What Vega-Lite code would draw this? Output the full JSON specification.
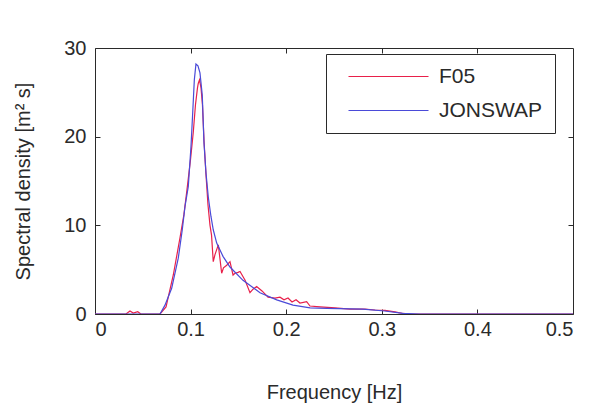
{
  "$schema": "https://vega.github.io/schema/vega-lite/v6.json",
  "autosize": "none",
  "padding": {"left": 95, "top": 48, "right": 29, "bottom": 95},
  "width": 478,
  "height": 266,
  "background": "white",
  "config": {
    "font": "Liberation Sans",
    "view": {"stroke": "#2a2a2a", "strokeWidth": 1},
    "axis": {"grid": false, "domain": false, "tickColor": "#2a2a2a", "labelColor": "#2a2a2a", "titleColor": "#2a2a2a", "labelFontSize": 20, "titleFontSize": 20, "titleFontWeight": "normal", "labelFont": "Liberation Sans", "titleFont": "Liberation Sans"}
  },
  "data": {"values": [
    {"f": 0, "S": 0, "series": "F05"},
    {"f": 0.0324, "S": 0, "series": "F05"},
    {"f": 0.0366, "S": 0.34, "series": "F05"},
    {"f": 0.04, "S": 0.1, "series": "F05"},
    {"f": 0.0447, "S": 0.26, "series": "F05"},
    {"f": 0.048, "S": 0, "series": "F05"},
    {"f": 0.068, "S": 0, "series": "F05"},
    {"f": 0.0743, "S": 0.8, "series": "F05"},
    {"f": 0.0819, "S": 4.4, "series": "F05"},
    {"f": 0.0889, "S": 8.6, "series": "F05"},
    {"f": 0.093, "S": 11.2, "series": "F05"},
    {"f": 0.0962, "S": 14.0, "series": "F05"},
    {"f": 0.0999, "S": 17.4, "series": "F05"},
    {"f": 0.1028, "S": 20.5, "series": "F05"},
    {"f": 0.1051, "S": 23.6, "series": "F05"},
    {"f": 0.1072, "S": 25.5, "series": "F05"},
    {"f": 0.108, "S": 26.0, "series": "F05"},
    {"f": 0.1093, "S": 26.4, "series": "F05"},
    {"f": 0.1109, "S": 25.5, "series": "F05"},
    {"f": 0.1124, "S": 23.6, "series": "F05"},
    {"f": 0.114, "S": 19.6, "series": "F05"},
    {"f": 0.1161, "S": 15.7, "series": "F05"},
    {"f": 0.1182, "S": 12.3, "series": "F05"},
    {"f": 0.1203, "S": 10.0, "series": "F05"},
    {"f": 0.1219, "S": 8.9, "series": "F05"},
    {"f": 0.1237, "S": 5.9, "series": "F05"},
    {"f": 0.1255, "S": 6.7, "series": "F05"},
    {"f": 0.129, "S": 7.8, "series": "F05"},
    {"f": 0.1325, "S": 4.6, "series": "F05"},
    {"f": 0.1344, "S": 5.2, "series": "F05"},
    {"f": 0.1378, "S": 5.5, "series": "F05"},
    {"f": 0.1412, "S": 5.9, "series": "F05"},
    {"f": 0.1444, "S": 4.4, "series": "F05"},
    {"f": 0.1464, "S": 4.6, "series": "F05"},
    {"f": 0.1496, "S": 4.7, "series": "F05"},
    {"f": 0.1517, "S": 4.8, "series": "F05"},
    {"f": 0.157, "S": 3.8, "series": "F05"},
    {"f": 0.1621, "S": 2.4, "series": "F05"},
    {"f": 0.1653, "S": 2.8, "series": "F05"},
    {"f": 0.1691, "S": 3.1, "series": "F05"},
    {"f": 0.1747, "S": 2.6, "series": "F05"},
    {"f": 0.181, "S": 1.9, "series": "F05"},
    {"f": 0.1883, "S": 1.8, "series": "F05"},
    {"f": 0.1935, "S": 1.9, "series": "F05"},
    {"f": 0.1977, "S": 1.6, "series": "F05"},
    {"f": 0.2019, "S": 1.8, "series": "F05"},
    {"f": 0.2061, "S": 1.35, "series": "F05"},
    {"f": 0.2103, "S": 1.6, "series": "F05"},
    {"f": 0.2144, "S": 1.24, "series": "F05"},
    {"f": 0.2214, "S": 1.39, "series": "F05"},
    {"f": 0.2249, "S": 0.9, "series": "F05"},
    {"f": 0.2354, "S": 0.8, "series": "F05"},
    {"f": 0.251, "S": 0.68, "series": "F05"},
    {"f": 0.2667, "S": 0.56, "series": "F05"},
    {"f": 0.2824, "S": 0.56, "series": "F05"},
    {"f": 0.2929, "S": 0.45, "series": "F05"},
    {"f": 0.3033, "S": 0.4, "series": "F05"},
    {"f": 0.3138, "S": 0.23, "series": "F05"},
    {"f": 0.3222, "S": 0.06, "series": "F05"},
    {"f": 0.3295, "S": 0, "series": "F05"},
    {"f": 0.5, "S": 0, "series": "F05"},
    {"f": 0, "S": 0, "series": "JONSWAP"},
    {"f": 0.068, "S": 0, "series": "JONSWAP"},
    {"f": 0.0732, "S": 1.0, "series": "JONSWAP"},
    {"f": 0.0802, "S": 2.9, "series": "JONSWAP"},
    {"f": 0.0871, "S": 6.3, "series": "JONSWAP"},
    {"f": 0.0913, "S": 9.5, "series": "JONSWAP"},
    {"f": 0.0941, "S": 12.1, "series": "JONSWAP"},
    {"f": 0.0976, "S": 14.4, "series": "JONSWAP"},
    {"f": 0.1004, "S": 18.9, "series": "JONSWAP"},
    {"f": 0.1022, "S": 22.7, "series": "JONSWAP"},
    {"f": 0.1039, "S": 26.4, "series": "JONSWAP"},
    {"f": 0.1056, "S": 28.2, "series": "JONSWAP"},
    {"f": 0.1077, "S": 28.0, "series": "JONSWAP"},
    {"f": 0.1098, "S": 27.2, "series": "JONSWAP"},
    {"f": 0.1122, "S": 24.7, "series": "JONSWAP"},
    {"f": 0.114, "S": 19.3, "series": "JONSWAP"},
    {"f": 0.1161, "S": 15.9, "series": "JONSWAP"},
    {"f": 0.1185, "S": 13.2, "series": "JONSWAP"},
    {"f": 0.1213, "S": 11.0, "series": "JONSWAP"},
    {"f": 0.1237, "S": 9.5, "series": "JONSWAP"},
    {"f": 0.1273, "S": 8.0, "series": "JONSWAP"},
    {"f": 0.1339, "S": 6.5, "series": "JONSWAP"},
    {"f": 0.1412, "S": 5.3, "series": "JONSWAP"},
    {"f": 0.1548, "S": 3.8, "series": "JONSWAP"},
    {"f": 0.1726, "S": 2.4, "series": "JONSWAP"},
    {"f": 0.1901, "S": 1.6, "series": "JONSWAP"},
    {"f": 0.2071, "S": 1.0, "series": "JONSWAP"},
    {"f": 0.225, "S": 0.7, "series": "JONSWAP"},
    {"f": 0.2424, "S": 0.64, "series": "JONSWAP"},
    {"f": 0.28, "S": 0.56, "series": "JONSWAP"},
    {"f": 0.303, "S": 0.34, "series": "JONSWAP"},
    {"f": 0.322, "S": 0.08, "series": "JONSWAP"},
    {"f": 0.34, "S": 0, "series": "JONSWAP"},
    {"f": 0.5, "S": 0, "series": "JONSWAP"}
  ]},
  "layer": [
    {
      "mark": {"type": "line", "strokeWidth": 1.2, "clip": true},
      "encoding": {
        "x": {"field": "f", "type": "quantitative", "scale": {"domain": [0, 0.5], "nice": false, "zero": false},
              "axis": {"title": "Frequency [Hz]", "values": [0, 0.1, 0.2, 0.3, 0.4, 0.5], "format": ".1~f", "tickSize": -5, "labelPadding": 10, "titlePadding": 43}},
        "y": {"field": "S", "type": "quantitative", "scale": {"domain": [0, 30], "nice": false},
              "axis": {"title": "Spectral density [m² s]", "values": [0, 10, 20, 30], "tickSize": -5, "labelPadding": 14, "titlePadding": 30}},
        "color": {"field": "series", "type": "nominal",
                  "scale": {"domain": ["F05", "JONSWAP"], "range": ["#e8204a", "#4a4ad8"]},
                  "legend": {"title": null, "orient": "none", "legendX": 231, "legendY": 6, "symbolType": "M0,0H16", "symbolSize": 100, "symbolStrokeWidth": 1.2, "labelFontSize": 21, "labelColor": "#2a2a2a", "labelOffset": 80, "strokeColor": "#2a2a2a", "padding": 12, "rowPadding": 12, "fillColor": "white"}},
        "detail": {"field": "series"}
      }
    },
    {
      "mark": {"type": "line", "opacity": 0},
      "encoding": {
        "x": {"field": "f", "type": "quantitative", "axis": {"orient": "top", "labels": false, "title": null, "values": [0.1, 0.2, 0.3, 0.4], "tickSize": -5}},
        "y": {"field": "S", "type": "quantitative", "axis": {"orient": "right", "labels": false, "title": null, "values": [10, 20], "tickSize": -5}}
      }
    }
  ],
  "resolve": {"axis": {"x": "independent", "y": "independent"}}
}
